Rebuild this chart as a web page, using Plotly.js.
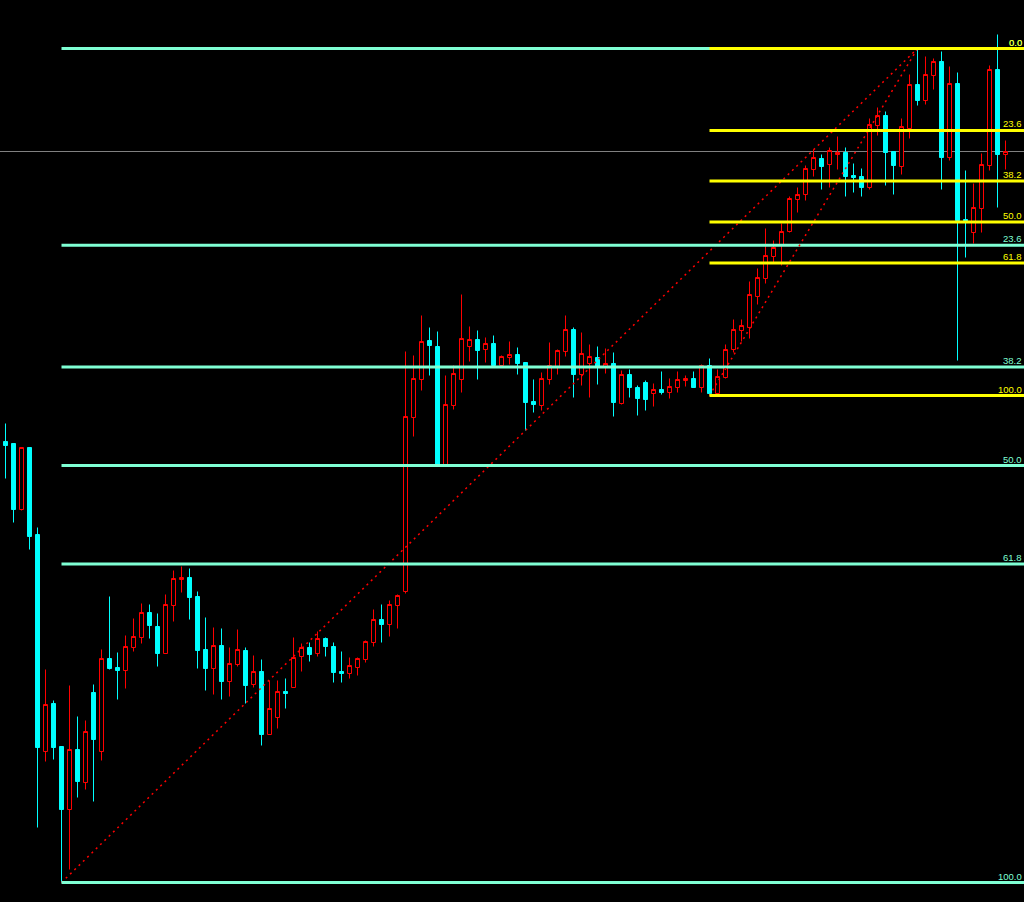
<!DOCTYPE html>
<html>
<head>
<meta charset="utf-8">
<script src="https://cdn.plot.ly/plotly-3.0.1.min.js"></script>
<style>
  html, body { margin: 0; padding: 0; background: #000; }
  #chart { width: 1024px; height: 902px; }
</style>
</head>
<body>
<div id="chart"></div>
<script>
// OHLC series, one bar per period
const open = [1.1441,1.1439,1.1373,1.1435,1.1348,1.1131,1.1179,1.1136,1.1073,1.1133,
  1.1100,1.1190,1.1131,1.1224,1.1215,1.1212,1.1235,1.1245,1.1270,1.1256,
  1.1229,1.1277,1.1303,1.1305,1.1286,1.1233,1.1214,1.1237,1.1201,1.1218,
  1.1232,1.1198,1.1211,1.1148,1.1165,1.1191,1.1195,1.1226,1.1235,1.1229,
  1.1244,1.1236,1.1211,1.1209,1.1215,1.1223,1.1240,1.1263,1.1258,1.1277,
  1.1291,1.1465,1.1503,1.1542,1.1536,1.1417,1.1477,1.1503,1.1536,1.1543,
  1.1533,1.1539,1.1517,1.1525,1.1528,1.1520,1.1481,1.1477,1.1503,1.1516,
  1.1531,1.1553,1.1508,1.1519,1.1525,1.1515,1.1519,1.1479,1.1508,1.1495,
  1.1500,1.1489,1.1493,1.1490,1.1495,1.1502,1.1504,1.1495,1.1517,1.1489,
  1.1505,1.1533,1.1552,1.1555,1.1586,1.1604,1.1626,1.1638,1.1651,1.1683,
  1.1688,1.1713,1.1724,1.1718,1.1728,1.1730,1.1707,1.1706,1.1695,1.1757,
  1.1767,1.1731,1.1716,1.1754,1.1798,1.1782,1.1807,1.1821,1.1725,1.1799,
  1.1663,1.1650,1.1674,1.1717,1.1813,1.1728];

const high = [1.1459,1.1439,1.1435,1.1435,1.1355,1.1213,1.1182,1.1136,1.1197,1.1166,
  1.1162,1.1198,1.1233,1.1286,1.1230,1.1247,1.1264,1.1279,1.1278,1.1269,
  1.1288,1.1312,1.1316,1.1314,1.1291,1.1265,1.1255,1.1254,1.1235,1.1253,
  1.1235,1.1227,1.1223,1.1202,1.1202,1.1204,1.1245,1.1239,1.1240,1.1251,
  1.1245,1.1240,1.1231,1.1225,1.1225,1.1242,1.1273,1.1278,1.1282,1.1288,
  1.1531,1.1527,1.1567,1.1555,1.1551,1.1507,1.1517,1.1588,1.1556,1.1552,
  1.1545,1.1547,1.1527,1.1541,1.1535,1.1520,1.1503,1.1510,1.1540,1.1533,
  1.1567,1.1555,1.1550,1.1538,1.1536,1.1534,1.1530,1.1512,1.1513,1.1497,
  1.1502,1.1499,1.1511,1.1504,1.1511,1.1507,1.1511,1.1518,1.1524,1.1513,
  1.1538,1.1563,1.1563,1.1601,1.1614,1.1654,1.1642,1.1659,1.1686,1.1695,
  1.1717,1.1733,1.1728,1.1735,1.1746,1.1735,1.1719,1.1714,1.1764,1.1775,
  1.1771,1.1731,1.1764,1.1808,1.1834,1.1826,1.1824,1.1831,1.1816,1.1810,
  1.1712,1.1699,1.1729,1.1817,1.1848,1.1742];

const low = [1.1404,1.1360,1.1372,1.1333,1.1055,1.1121,1.1123,1.1000,1.1013,1.1085,
  1.1093,1.1081,1.1122,1.1213,1.1183,1.1194,1.1231,1.1239,1.1244,1.1216,
  1.1229,1.1261,1.1290,1.1263,1.1214,1.1192,1.1188,1.1183,1.1186,1.1216,
  1.1179,1.1195,1.1137,1.1148,1.1154,1.1174,1.1195,1.1211,1.1221,1.1226,
  1.1226,1.1200,1.1200,1.1204,1.1207,1.1220,1.1236,1.1240,1.1246,1.1254,
  1.1289,1.1446,1.1492,1.1507,1.1416,1.1416,1.1473,1.1490,1.1521,1.1503,
  1.1520,1.1516,1.1516,1.1518,1.1508,1.1452,1.1470,1.1472,1.1498,1.1508,
  1.1526,1.1485,1.1497,1.1485,1.1498,1.1509,1.1466,1.1478,1.1485,1.1467,
  1.1472,1.1476,1.1488,1.1484,1.1490,1.1496,1.1495,1.1490,1.1487,1.1488,
  1.1504,1.1530,1.1541,1.1544,1.1578,1.1599,1.1620,1.1617,1.1650,1.1670,
  1.1682,1.1706,1.1693,1.1695,1.1713,1.1686,1.1690,1.1686,1.1693,1.1747,
  1.1697,1.1688,1.1708,1.1744,1.1777,1.1778,1.1793,1.1693,1.1722,1.1522,
  1.1625,1.1639,1.1650,1.1712,1.1675,1.1713];

const close = [1.1437,1.1373,1.1435,1.1346,1.1135,1.1178,1.1135,1.1073,1.1133,1.1101,
  1.1151,1.1143,1.1224,1.1214,1.1212,1.1236,1.1246,1.1270,1.1257,1.1229,
  1.1278,1.1304,1.1305,1.1285,1.1232,1.1214,1.1237,1.1201,1.1219,1.1233,
  1.1197,1.1211,1.1148,1.1174,1.1191,1.1189,1.1225,1.1235,1.1228,1.1244,
  1.1236,1.1210,1.1209,1.1217,1.1224,1.1241,1.1263,1.1258,1.1278,1.1287,
  1.1466,1.1504,1.1541,1.1537,1.1417,1.1478,1.1509,1.1544,1.1543,1.1532,
  1.1539,1.1517,1.1526,1.1528,1.1519,1.1480,1.1478,1.1504,1.1517,1.1532,
  1.1553,1.1508,1.1529,1.1526,1.1515,1.1519,1.1480,1.1508,1.1495,1.1484,
  1.1483,1.1493,1.1490,1.1496,1.1503,1.1504,1.1495,1.1517,1.1489,1.1506,
  1.1533,1.1553,1.1557,1.1588,1.1605,1.1627,1.1635,1.1651,1.1684,1.1688,
  1.1714,1.1725,1.1716,1.1732,1.1730,1.1706,1.1705,1.1695,1.1758,1.1767,
  1.1730,1.1717,1.1756,1.1798,1.1782,1.1808,1.1821,1.1725,1.1799,1.1662,
  1.1662,1.1675,1.1718,1.1813,1.1728,1.1731];

// Fibonacci retracement ratios (percent) and the bars they are anchored to
const fibLevels = [0.0, 23.6, 38.2, 50.0, 61.8, 100.0];
const majorFib = { lowBar: 7, highBar: 114 };   // swing low -> swing high
const minorFib = { lowBar: 88, highBar: 114 };

const bars = open.map((_, i) => i);

// 8 px per bar, bar centres on half pixels so 1 px strokes stay sharp
const X_MIN = -0.6875, X_MAX = 127.3125;
const Y_MAX = 1.18825, Y_MIN = Y_MAX - 0.0902;

const AQUA = '#7FFFD4';
const YELLOW = '#FFFF00';

const shapes = [];
const annotations = [];

// current price line
shapes.push({
  type: 'line', xref: 'x', yref: 'y',
  x0: X_MIN, x1: X_MAX, y0: close[close.length - 1], y1: close[close.length - 1],
  line: { color: '#808080', width: 1 }, layer: 'below'
});

function addFib(fib, color) {
  const lo = low[fib.lowBar];
  const hi = high[fib.highBar];
  // diagonal trend line from swing low to swing high
  shapes.push({
    type: 'line', xref: 'x', yref: 'y',
    x0: fib.lowBar, y0: lo, x1: fib.highBar, y1: hi,
    line: { color: '#FF0000', width: 1.5, dash: '2px,4px' }, layer: 'above'
  });
  fibLevels.forEach(r => {
    const p = hi - (hi - lo) * r / 100;
    shapes.push({
      type: 'line', xref: 'x', yref: 'y',
      x0: fib.lowBar, x1: X_MAX, y0: p, y1: p,
      line: { color: color, width: 3 }, layer: 'above'
    });
    annotations.push({
      xref: 'paper', yref: 'y', x: 1, y: p,
      xanchor: 'right', yanchor: 'bottom', xshift: -1, yshift: 0,
      text: r.toFixed(1), showarrow: false,
      font: { family: 'Liberation Sans, Arial, sans-serif', size: 9.5, color: color },
      borderpad: 0
    });
  });
}

addFib(majorFib, AQUA);
addFib(minorFib, YELLOW);

const trace = {
  type: 'candlestick',
  x: bars, open: open, high: high, low: low, close: close,
  increasing: { line: { color: '#FF0000', width: 1 }, fillcolor: '#000000' },
  decreasing: { line: { color: '#00FFFF', width: 1 }, fillcolor: '#00FFFF' },
  whiskerwidth: 0,
  hoverinfo: 'none'
};

const layout = {
  width: 1024, height: 902,
  margin: { l: 0, r: 0, t: 0, b: 0, pad: 0 },
  paper_bgcolor: '#000000', plot_bgcolor: '#000000',
  showlegend: false,
  boxgap: 0.5,
  boxgroupgap: 0,
  xaxis: {
    range: [X_MIN, X_MAX], visible: false, showgrid: false, zeroline: false,
    rangeslider: { visible: false }, fixedrange: true
  },
  yaxis: {
    range: [Y_MIN, Y_MAX], visible: false, showgrid: false, zeroline: false, fixedrange: true
  },
  shapes: shapes,
  annotations: annotations
};

Plotly.newPlot('chart', [trace], layout, { displayModeBar: false, staticPlot: true });
</script>
</body>
</html>
